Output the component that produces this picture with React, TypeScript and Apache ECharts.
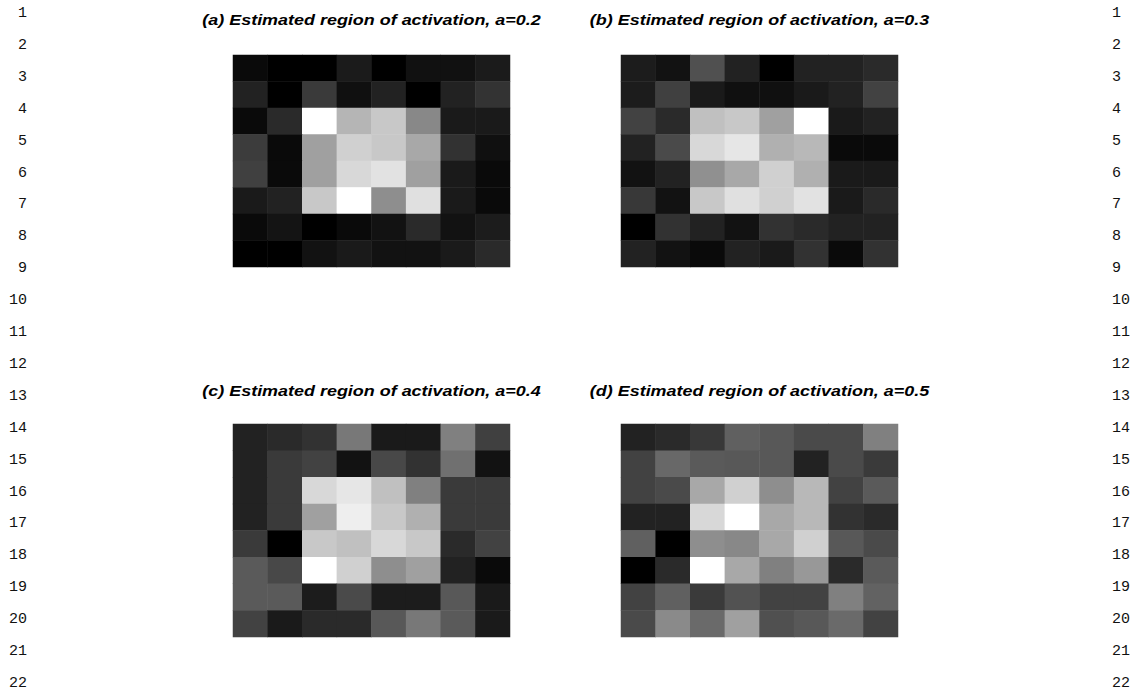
import React, { useEffect, useRef } from "react";
import * as echarts from "echarts";

// Gray level (0 = black, 255 = white) of each cell, row by row from the top.
const panelA: number[][] = [
  [0x0a, 0x00, 0x00, 0x1b, 0x00, 0x11, 0x11, 0x1b],
  [0x22, 0x00, 0x3a, 0x10, 0x22, 0x00, 0x22, 0x33],
  [0x0a, 0x2a, 0xff, 0xb5, 0xc8, 0x88, 0x1a, 0x1a],
  [0x3c, 0x0a, 0xa0, 0xd0, 0xc8, 0xa8, 0x32, 0x10],
  [0x40, 0x0a, 0xa0, 0xd8, 0xe2, 0xa0, 0x1a, 0x0a],
  [0x1a, 0x22, 0xc8, 0xff, 0x8e, 0xe0, 0x1a, 0x0a],
  [0x0a, 0x14, 0x00, 0x0a, 0x12, 0x2a, 0x12, 0x1c],
  [0x00, 0x00, 0x12, 0x1a, 0x12, 0x12, 0x1a, 0x2a],
];

const panelB: number[][] = [
  [0x1c, 0x12, 0x50, 0x22, 0x00, 0x22, 0x22, 0x2a],
  [0x1c, 0x40, 0x1a, 0x10, 0x10, 0x1a, 0x22, 0x42],
  [0x42, 0x2a, 0xc0, 0xc8, 0xa0, 0xff, 0x1a, 0x22],
  [0x22, 0x4a, 0xd8, 0xe6, 0xb0, 0xb8, 0x0a, 0x0a],
  [0x12, 0x22, 0x90, 0xa8, 0xd0, 0xb0, 0x1a, 0x1a],
  [0x38, 0x12, 0xc8, 0xe0, 0xd0, 0xe2, 0x1a, 0x2a],
  [0x00, 0x32, 0x22, 0x12, 0x32, 0x2a, 0x22, 0x22],
  [0x22, 0x12, 0x0a, 0x22, 0x1a, 0x32, 0x0a, 0x32],
];

const panelC: number[][] = [
  [0x22, 0x2a, 0x32, 0x78, 0x1a, 0x1a, 0x80, 0x40],
  [0x22, 0x3a, 0x42, 0x12, 0x48, 0x32, 0x70, 0x12],
  [0x22, 0x3a, 0xd8, 0xe6, 0xc0, 0x80, 0x3a, 0x3a],
  [0x22, 0x3a, 0xa0, 0xee, 0xc8, 0xb0, 0x3a, 0x3a],
  [0x3a, 0x00, 0xc8, 0xc0, 0xd8, 0xc8, 0x2a, 0x42],
  [0x5a, 0x48, 0xff, 0xd0, 0x8e, 0xa0, 0x22, 0x0a],
  [0x5a, 0x5a, 0x1c, 0x4a, 0x1c, 0x1c, 0x58, 0x1a],
  [0x42, 0x1a, 0x2a, 0x2a, 0x58, 0x78, 0x5a, 0x1a],
];

const panelD: number[][] = [
  [0x22, 0x2a, 0x38, 0x60, 0x58, 0x4a, 0x4a, 0x80],
  [0x42, 0x68, 0x5a, 0x58, 0x58, 0x22, 0x4a, 0x3a],
  [0x42, 0x4a, 0xa8, 0xd0, 0x8e, 0xb8, 0x42, 0x5a],
  [0x22, 0x22, 0xd8, 0xff, 0xa8, 0xb8, 0x32, 0x2a],
  [0x60, 0x00, 0x8e, 0x88, 0xa8, 0xd0, 0x58, 0x4a],
  [0x00, 0x2a, 0xff, 0xa8, 0x80, 0x98, 0x2a, 0x5a],
  [0x42, 0x60, 0x3a, 0x52, 0x42, 0x42, 0x80, 0x62],
  [0x4a, 0x8a, 0x6a, 0xa0, 0x50, 0x58, 0x6a, 0x42],
];

const panelTitles = [
  "(a) Estimated region of activation, a=0.2",
  "(b) Estimated region of activation, a=0.3",
  "(c) Estimated region of activation, a=0.4",
  "(d) Estimated region of activation, a=0.5",
];

const columns = ["1", "2", "3", "4", "5", "6", "7", "8"];
const rows = ["1", "2", "3", "4", "5", "6", "7", "8"];

const lineNumbers = [
  1, 2, 3, 4, 5, 6, 7, 8, 9, 10, 11, 12, 13, 14, 15, 16, 17, 18, 19, 20, 21, 22,
];

// Panel placement on the page: [left, top, width, height]
const panelBoxes = [
  [233, 55, 277, 212],
  [621, 55, 277, 212],
  [233, 424, 277, 213],
  [621, 424, 277, 213],
];

const titleCenters = [
  [371.5, 20],
  [759.5, 20],
  [371.5, 391],
  [759.5, 391],
];

const panels = [panelA, panelB, panelC, panelD];

export default function App() {
  const ref = useRef<HTMLDivElement>(null);

  useEffect(() => {
    if (!ref.current) return;
    const chart = echarts.init(ref.current, undefined, { renderer: "svg" });

    const grids = panelBoxes.map(([left, top, width, height]) => ({
      left,
      top,
      width,
      height,
      containLabel: false,
    }));

    const xAxes = panelBoxes.map((_, i) => ({
      type: "category" as const,
      gridIndex: i,
      data: columns,
      show: false,
    }));

    const yAxes = panelBoxes.map((_, i) => ({
      type: "category" as const,
      gridIndex: i,
      data: rows,
      inverse: true,
      show: false,
    }));

    const series = panels.map((grid, i) => ({
      type: "heatmap" as const,
      xAxisIndex: i,
      yAxisIndex: i,
      data: grid.flatMap((row, r) => row.map((v, c) => [c, r, v])),
      itemStyle: { borderWidth: 0 },
      emphasis: { disabled: true },
    }));

    const visualMaps = panels.map((_, i) => ({
      type: "continuous" as const,
      seriesIndex: i,
      min: 0,
      max: 255,
      show: false,
      inRange: { color: ["#000000", "#ffffff"] },
    }));

    // Panel captions: a wide bold oblique sans, drawn as slightly stretched text.
    const titleTexts = panelTitles.map((text, i) => ({
      type: "text" as const,
      x: titleCenters[i][0],
      y: titleCenters[i][1],
      scaleX: 1.3,
      scaleY: 1,
      silent: true,
      style: {
        text,
        fontFamily: "Liberation Sans, Arial, sans-serif",
        fontSize: 13.8,
        fontWeight: "bold" as const,
        fontStyle: "italic" as const,
        fill: "#000000",
        align: "center" as const,
        verticalAlign: "middle" as const,
      },
    }));

    const numberFont = {
      fontFamily: "Liberation Mono, monospace",
      fontSize: 15,
      fill: "#111111",
      verticalAlign: "middle" as const,
    };

    const numberTexts = lineNumbers.flatMap((n) => {
      const y = 13.5 + (n - 1) * 31.9;
      return [
        {
          type: "text" as const,
          x: 27,
          y,
          style: { ...numberFont, text: String(n), align: "right" as const },
          silent: true,
        },
        {
          type: "text" as const,
          x: 1112,
          y,
          style: { ...numberFont, text: String(n), align: "left" as const },
          silent: true,
        },
      ];
    });

    chart.setOption({
      animation: false,
      backgroundColor: "#ffffff",
      grid: grids,
      xAxis: xAxes,
      yAxis: yAxes,
      visualMap: visualMaps,
      series,
      graphic: [...titleTexts, ...numberTexts],
    });

    return () => chart.dispose();
  }, []);

  return (
    <div
      ref={ref}
      style={{ position: "fixed", left: 0, top: 0, width: 1135, height: 691 }}
    />
  );
}
